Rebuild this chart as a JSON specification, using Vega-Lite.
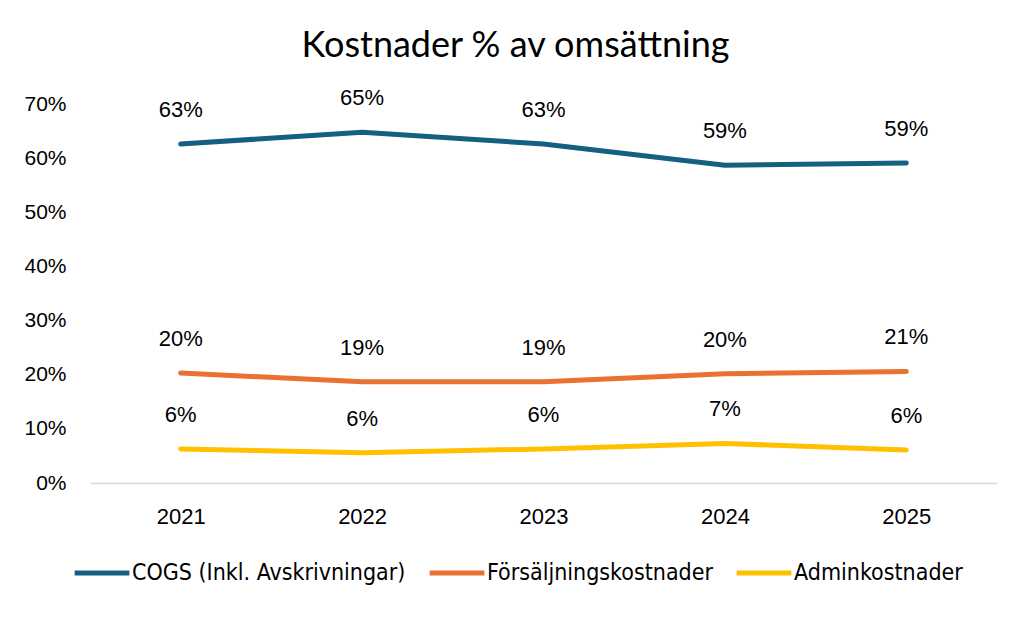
{
  "$schema": "https://vega.github.io/schema/vega-lite/v6.json",
  "width": 907,
  "height": 379,
  "autosize": {"type": "none"},
  "padding": {"left": 90, "top": 104, "right": 33, "bottom": 137},
  "background": "white",
  "title": {
    "text": "Kostnader % av omsättning",
    "font": "Lato",
    "fontSize": 36,
    "fontWeight": "normal",
    "color": "#000000",
    "anchor": "middle",
    "dx": -28,
    "offset": 22
  },
  "config": {
    "view": {"stroke": null},
    "axis": {"labelFont": "Liberation Sans", "labelColor": "#000000", "title": null}
  },
  "data": {
    "values": [
      {"year": "2021", "series": "COGS (Inkl. Avskrivningar)", "value": 0.626},
      {"year": "2022", "series": "COGS (Inkl. Avskrivningar)", "value": 0.648},
      {"year": "2023", "series": "COGS (Inkl. Avskrivningar)", "value": 0.626},
      {"year": "2024", "series": "COGS (Inkl. Avskrivningar)", "value": 0.587},
      {"year": "2025", "series": "COGS (Inkl. Avskrivningar)", "value": 0.591},
      {"year": "2021", "series": "Försäljningskostnader", "value": 0.203},
      {"year": "2022", "series": "Försäljningskostnader", "value": 0.187},
      {"year": "2023", "series": "Försäljningskostnader", "value": 0.187},
      {"year": "2024", "series": "Försäljningskostnader", "value": 0.202},
      {"year": "2025", "series": "Försäljningskostnader", "value": 0.206},
      {"year": "2021", "series": "Adminkostnader", "value": 0.063},
      {"year": "2022", "series": "Adminkostnader", "value": 0.056},
      {"year": "2023", "series": "Adminkostnader", "value": 0.063},
      {"year": "2024", "series": "Adminkostnader", "value": 0.073},
      {"year": "2025", "series": "Adminkostnader", "value": 0.061}
    ]
  },
  "encoding": {
    "x": {
      "field": "year",
      "type": "ordinal",
      "scale": {"type": "point", "padding": 0.5},
      "axis": {"labelAngle": 0, "ticks": false, "domainColor": "#D9D9D9", "domainWidth": 1.5, "labelPadding": 23, "labelFontSize": 22}
    },
    "y": {
      "field": "value",
      "type": "quantitative",
      "scale": {"domain": [0, 0.7], "nice": false},
      "axis": {"format": ".0%", "values": [0, 0.1, 0.2, 0.3, 0.4, 0.5, 0.6, 0.7], "grid": false, "domain": false, "ticks": false, "labelPadding": 24, "labelFontSize": 21}
    }
  },
  "layer": [
    {
      "mark": {"type": "line", "strokeWidth": 5, "strokeCap": "round", "strokeJoin": "round"},
      "encoding": {
        "color": {
          "field": "series",
          "type": "nominal",
          "scale": {
            "domain": ["COGS (Inkl. Avskrivningar)", "Försäljningskostnader", "Adminkostnader"],
            "range": ["#156082", "#E97132", "#FFC000"]
          },
          "legend": {
            "title": null,
            "orient": "none",
            "direction": "horizontal",
            "legendX": -18,
            "legendY": 439,
            "symbolType": "stroke",
            "symbolSize": 3000,
            "symbolStrokeWidth": 5,
            "labelFont": "DejaVu Sans Condensed, Roboto, sans-serif",
            "labelFontSize": 23,
            "labelLimit": 0,
            "labelColor": "#000000",
            "labelOffset": 0,
            "columnPadding": 13
          }
        }
      }
    },
    {
      "mark": {"type": "text", "dy": -34, "font": "Liberation Sans", "fontSize": 22, "color": "#000000"},
      "encoding": {
        "text": {"field": "value", "type": "quantitative", "format": ".0%"}
      }
    }
  ]
}
